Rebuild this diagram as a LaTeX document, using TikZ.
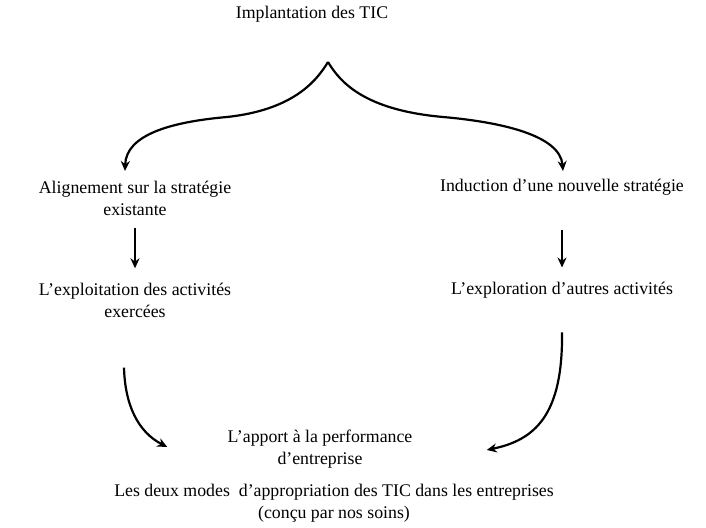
\documentclass[tikz,border=0pt]{standalone}
\usepackage{fontspec}
\setmainfont{Liberation Serif}
\usetikzlibrary{arrows.meta,positioning}

\begin{document}
\begin{tikzpicture}[
  x=0.5pt, y=-0.5pt,
  font=\fontsize{8.9}{11}\selectfont,
  txt/.style={align=center, inner sep=0pt},
  arr/.style={-{Stealth[length=5pt,width=4.5pt]}, line width=1.1pt, black}
]
\useasboundingbox (0,0) rectangle (706,528);
% top: the two branches
\node[txt] (impl) at (312,14) {Implantation des TIC};
\coordinate (tip) at (328,62);
\coordinate (bl) at (125,171);
\coordinate (br) at (563,171);
% left column
\node[txt] (align) at (135,198) {Alignement sur la stratégie\\existante};
\node[txt] (exploit) at (135,300) {L'exploitation des activités\\exercées};
% right column
\node[txt] (induc) at (562,187) {Induction d'une nouvelle stratégie};
\node[txt] (explor) at (562,290) {L'exploration d'autres activités};
% bottom
\node[txt] (apport) at (320,449) {L'apport à la performance\\d'entreprise};
\node[txt] (titre) at (334,503) {Les deux modes~ d'appropriation des TIC dans les entreprises\\(conçu par nos soins)};
\draw[arr] (tip) .. controls (316,82) and (292,110) .. (227,117) .. controls (170,122) and (126,135) .. (bl);
\draw[arr] (tip) .. controls (340,82) and (364,110) .. (443,117) .. controls (500,122) and (560,135) .. (br);
\draw[arr] ([yshift=-6pt]align.south) -- ([yshift=7pt]exploit.north);
\draw[arr] ([yshift=-17pt]induc.south) -- ([yshift=7pt]explor.north);
\draw[arr] ([yshift=-25pt]exploit.south -| 124,0) .. controls (125,405) and (138,432) .. ([xshift=-30pt]apport.west |- 0,447);
\draw[arr] ([yshift=-17pt]explor.south) .. controls (563,415) and (535,440) .. ([xshift=37pt]apport.east |- 0,450);
\end{tikzpicture}
\end{document}
